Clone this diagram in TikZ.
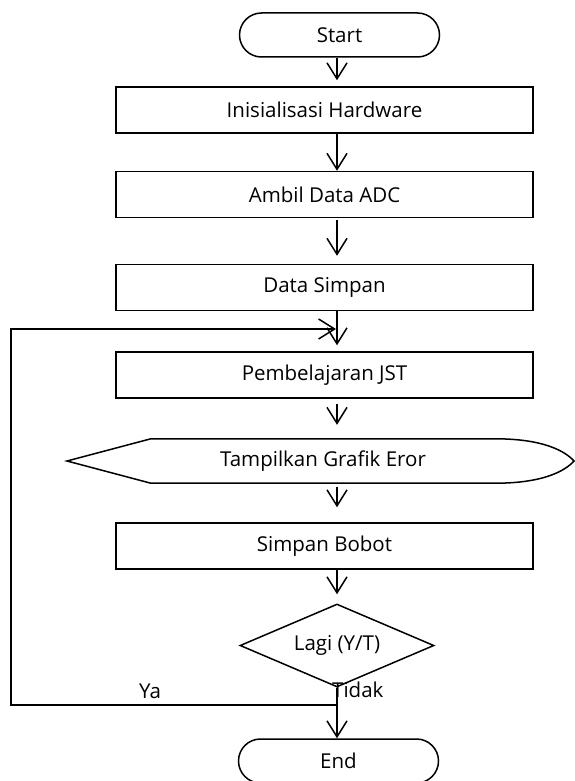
\documentclass[tikz,border=0pt]{standalone}
\usepackage{fontspec}
\setmainfont{Open Sans}
\usetikzlibrary{arrows.meta,shapes.geometric}
\begin{document}
\begin{tikzpicture}[x=1pt,y=-1pt,
  every node/.style={font=\fontsize{20.5}{24}\selectfont},
  box/.style={draw,line width=1.5pt,minimum width=417pt,minimum height=46pt,inner sep=0pt},
  term/.style={draw,line width=1.5pt,rounded corners=22pt,minimum width=200pt,minimum height=44pt,inner sep=0pt},
  dec/.style={draw,line width=1.5pt,diamond,aspect=2.34,minimum width=194pt,minimum height=83pt,inner sep=0pt},
  arr/.style={line width=1.5pt,-{Straight Barb[length=16pt,width=20pt]}},
  ln/.style={line width=1.5pt}]
\useasboundingbox[fill=white] (0,0) rectangle (575,781);
\coordinate (sp) at (337,0);
\coordinate (loopx) at (11,0);
\node[term] (start) at (339.5,35) {Start};
\node[box] (init) at (324.5,110) {Inisialisasi Hardware};
\node[box] (ambil) at (324.5,194.5) {Ambil Data ADC};
\node[box] (data) at (324.5,287.5) {Data Simpan};
\node[box] (pemb) at (324.5,375) {Pembelajaran JST};
\node[minimum width=344pt,minimum height=44pt,inner sep=0pt] (disp) at (323,461) {Tampilkan Grafik Eror};
\coordinate (dtip) at (67,461);
\coordinate (dend) at (574,461);
\draw[ln] (dtip) -- (disp.north west) -- (disp.north east)
  .. controls +(48,0) and +(-9,-10) .. (dend)
  .. controls +(-9,10) and +(48,0) .. (disp.south east)
  -- (disp.south west) -- cycle;
\node[box] (bobot) at (324.5,546) {Simpan Bobot};
\node[dec] (lagi) at (337,645.5) {Lagi (Y/T)};
\node[term] (end) at (338.5,761) {End};
\node (ya) at (150,691) {Ya};
\node[anchor=west,inner sep=0pt] (tidak) at (332,690) {Tidak};
\coordinate (j) at (337,705);
\coordinate (m) at (336,329);
\draw[arr, shorten >=6pt] (start.south -| sp) -- (init.north -| sp);
\draw[arr] (init.south -| sp) -- (ambil.north -| sp);
\draw[arr, shorten <=2pt, shorten >=8pt] (ambil.south -| sp) -- (data.north -| sp);
\draw[arr, shorten >=6pt] (data.south -| sp) -- (pemb.north -| sp);
\draw[arr, shorten <=5pt, shorten >=14pt] (pemb.south -| sp) -- (disp.north -| sp);
\draw[arr, shorten <=4pt, shorten >=15pt] (disp.south -| sp) -- (bobot.north -| sp);
\draw[arr, shorten >=9pt] (bobot.south -| sp) -- (lagi.north);
\draw[arr] (lagi.south) -- (end.north -| sp);
\draw[arr] (j) -- (j -| loopx) -- (m -| loopx) -- (m);
\end{tikzpicture}
\end{document}
